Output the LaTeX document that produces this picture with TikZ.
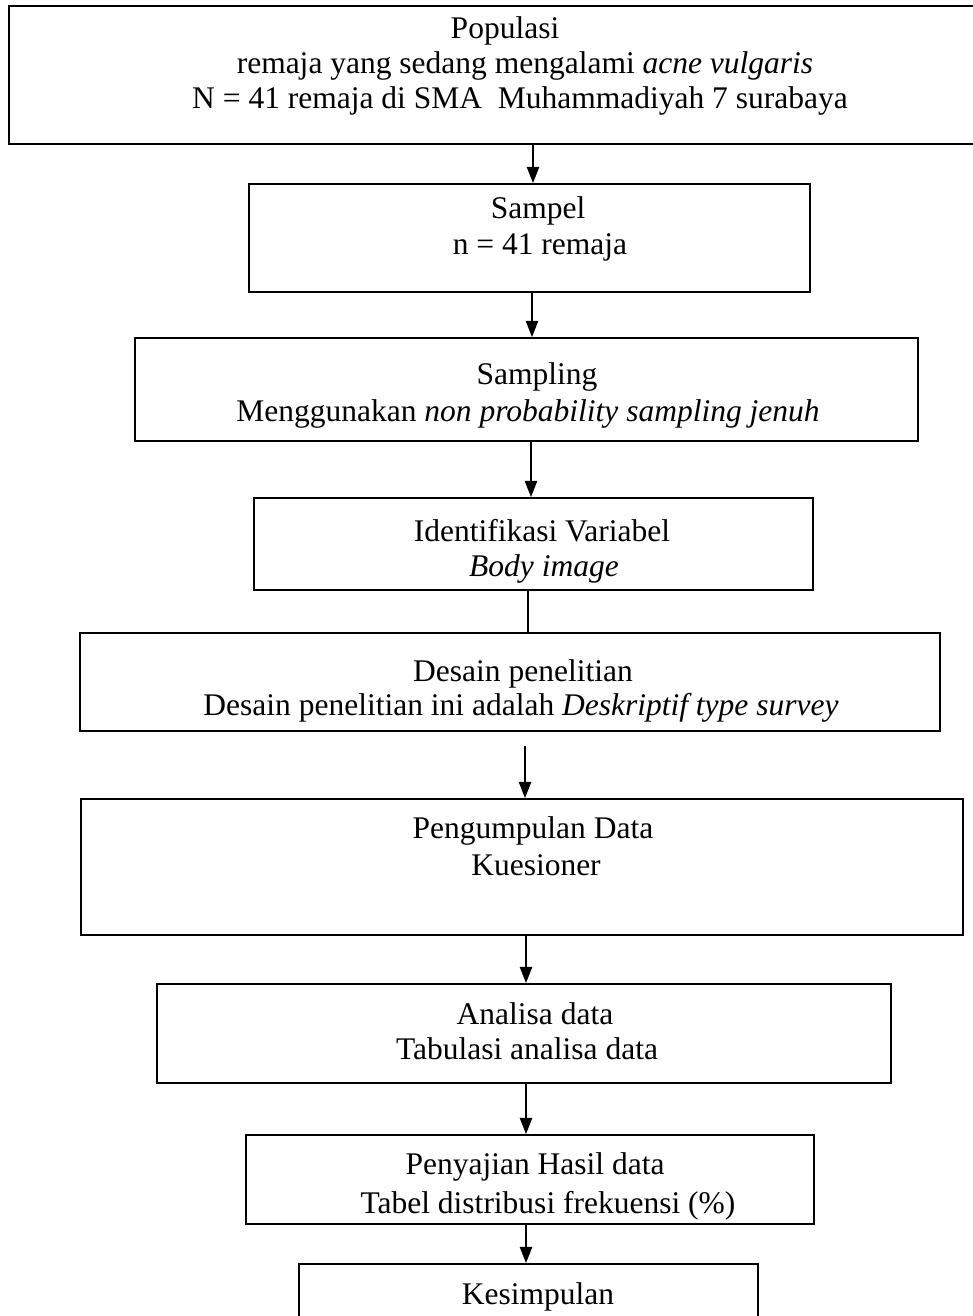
\documentclass[tikz,border=0pt]{standalone}
\usepackage{fontspec}
\setmainfont{Liberation Serif}
\usetikzlibrary{arrows.meta,fit}
\begin{document}
\begin{tikzpicture}[x=0.4pt,y=-0.4pt,
  box/.style={draw=black,line width=0.8pt,inner sep=0pt,rectangle},
  txt/.style={anchor=base,inner sep=0pt,font=\fontsize{12.6}{15}\selectfont},
  arr/.style={line width=0.5pt,-{Triangle[length=6.5pt,width=5pt]}},
  plain/.style={line width=0.5pt}]
\useasboundingbox (0,0) rectangle (973,1316);
\fill[white] (0,0) rectangle (973,1316);
% boxes
\node[box,fit={(9,6) (990,144)}] (pop) {};
\node[box,fit={(249,184) (810,292)}] (samp) {};
\node[box,fit={(135,338) (918,441)}] (smpl) {};
\node[box,fit={(254,498) (813,590)}] (ident) {};
\node[box,fit={(80,633) (940,731)}] (desain) {};
\node[box,fit={(81,799) (963,935)}] (peng) {};
\node[box,fit={(157,984) (891,1083)}] (anal) {};
\node[box,fit={(246,1135) (814,1224)}] (peny) {};
\node[box,fit={(299,1264) (758,1345)}] (kes) {};
% texts
\node[txt] (pop1) at (505,38) {Populasi};
\node[txt] (pop2) at (525,73) {remaja yang sedang mengalami \textit{acne vulgaris}};
\node[txt] (pop3) at (520,108) {N = 41 remaja di SMA\ \ Muhammadiyah 7 surabaya};
\node[txt] (samp1) at (538,218) {Sampel};
\node[txt] (samp2) at (540,254) {n = 41 remaja};
\node[txt] (smpl1) at (537,384) {Sampling};
\node[txt] (smpl2) at (528,421) {Menggunakan \textit{non probability sampling jenuh}};
\node[txt] (ident1) at (542,541) {Identifikasi Variabel};
\node[txt] (ident2) at (544,576) {\textit{Body image}};
\node[txt] (desain1) at (523,681) {Desain penelitian};
\node[txt] (desain2) at (521,715) {Desain penelitian ini adalah \textit{Deskriptif type survey}};
\node[txt] (peng1) at (533,838) {Pengumpulan Data};
\node[txt] (peng2) at (536,875) {Kuesioner};
\node[txt] (anal1) at (535,1024) {Analisa data};
\node[txt] (anal2) at (527,1059) {Tabulasi analisa data};
\node[txt] (peny1) at (535,1174) {Penyajian Hasil data};
\node[txt] (peny2) at (548,1213) {Tabel distribusi frekuensi (\%)};
\node[txt] (kes1) at (538,1304) {Kesimpulan};
% connector columns
\coordinate (c1) at (533,0);
\coordinate (c2) at (532,0);
\coordinate (c3) at (531,0);
\coordinate (c4) at (528,0);
\coordinate (c5) at (525,0);
\coordinate (c6) at (526,0);
% connectors
\draw[arr] (c1 |- pop.south) -- (c1 |- samp.north);
\draw[arr] (c2 |- samp.south) -- (c2 |- smpl.north);
\draw[arr] (c3 |- smpl.south) -- (c3 |- ident.north);
\draw[plain] (c4 |- ident.south) -- (c4 |- desain.north);
\draw[arr,shorten <=5.6pt] (c5 |- desain.south) -- (c5 |- peng.north);
\draw[arr] (c6 |- peng.south) -- (c6 |- anal.north);
\draw[arr] (c6 |- anal.south) -- (c6 |- peny.north);
\draw[arr] (c6 |- peny.south) -- (c6 |- kes.north);
\end{tikzpicture}
\end{document}
